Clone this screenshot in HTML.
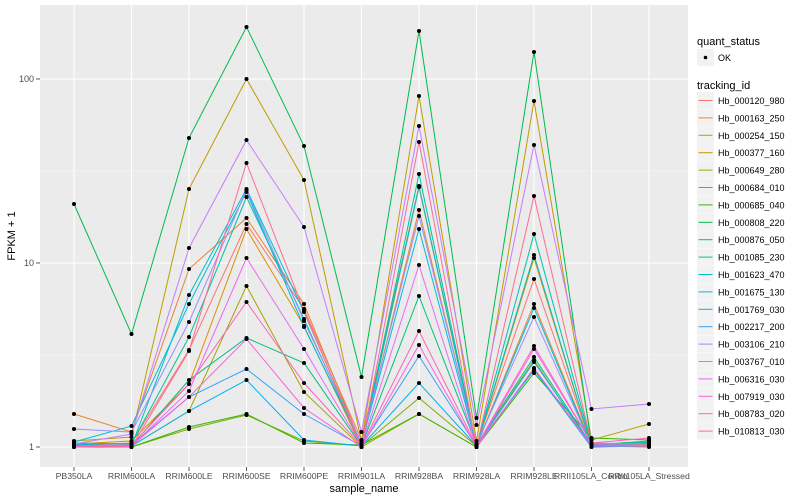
<!DOCTYPE html>
<html><head><meta charset="utf-8"><style>
body{margin:0;background:#fff;}
svg{display:block;font-family:"Liberation Sans",sans-serif;}
</style></head><body>
<svg id="s" width="800" height="500" xmlns="http://www.w3.org/2000/svg">
<rect x="40" y="5" width="648" height="462" fill="#EBEBEB"/>
<g stroke="#F5F5F5" stroke-width="0.6"><line x1="40" x2="688" y1="355" y2="355"/><line x1="40" x2="688" y1="171" y2="171"/></g>
<g stroke="#fff" stroke-width="1.1"><line x1="40" x2="688" y1="447" y2="447"/><line x1="40" x2="688" y1="263" y2="263"/><line x1="40" x2="688" y1="79" y2="79"/></g>
<g id="vg" stroke="#fff" stroke-width="1.1"></g>
<g id="lines" fill="none" stroke-width="1"></g>
<g id="pts" fill="#000"></g>
<g font-size="9" fill="#4D4D4D" text-anchor="end"><text x="34" y="82">100</text><text x="34" y="266">10</text><text x="34" y="450">1</text></g>
<g stroke="#333" stroke-width="0.8"><line x1="36" x2="40" y1="79" y2="79"/><line x1="36" x2="40" y1="263" y2="263"/><line x1="36" x2="40" y1="447" y2="447"/></g>
<g id="xl" font-size="8.7" fill="#4D4D4D" text-anchor="middle"></g>
<text x="364" y="492" font-size="11" text-anchor="middle" fill="#000">sample_name</text>
<text transform="translate(15,236) rotate(-90)" font-size="11" text-anchor="middle" fill="#000">FPKM + 1</text>
<text x="697" y="45" font-size="11" fill="#000">quant_status</text>
<rect x="697" y="49" width="17" height="17" fill="#F2F2F2"/><circle cx="705.5" cy="57.5" r="1.8" fill="#000"/>
<text x="718" y="61" font-size="9" fill="#000">OK</text>
<text x="697" y="89" font-size="11" fill="#000">tracking_id</text>
<g id="lg"></g>
</svg>
<script>
var ns="http://www.w3.org/2000/svg";
function el(p,t,a,txt){var e=document.createElementNS(ns,t);for(var k in a)e.setAttribute(k,a[k]);if(txt)e.textContent=txt;document.getElementById(p).appendChild(e);return e;}
var xs=[],names=["PB350LA","RRIM600LA","RRIM600LE","RRIM600SE","RRIM600PE","RRIM901LA","RRIM928BA","RRIM928LA","RRIM928LE","RRII105LA_Control","RRII105LA_Stressed"];
for(var i=0;i<11;i++){xs.push(74+i*57.5);el("vg","line",{x1:xs[i],x2:xs[i],y1:5,y2:467});
el("xl","text",{x:xs[i],y:479},names[i]);
el("xl","line",{x1:xs[i],x2:xs[i],y1:467,y2:471,stroke:"#333","stroke-width":0.8});}
var cols=["#F8766D","#EA8331","#D89000","#C09B00","#A3A500","#7CAE00","#39B600","#00BB4E","#00BF7D","#00C1A3","#00BFC4","#00BAE0","#00B0F6","#35A2FF","#9590FF","#C77CFF","#E76BF3","#FA62DB","#FF62BC","#FF6C91"];
var ids=["Hb_000120_980","Hb_000163_250","Hb_000254_150","Hb_000377_160","Hb_000649_280","Hb_000684_010","Hb_000685_040","Hb_000808_220","Hb_000876_050","Hb_001085_230","Hb_001623_470","Hb_001675_130","Hb_001769_030","Hb_002217_200","Hb_003106_210","Hb_003767_010","Hb_006316_030","Hb_007919_030","Hb_008783_020","Hb_010813_030"];
var d=[
[445,443,350,224,309,440,186,445,279,445,443],
[414,432,269,218,304,445,210,446,304,445,446],
[444,441,384,229,326,447,187,447,258,446,445],
[441,437,189,79,180,441,96,441,101,440,424],
[445,446,411,286,392,447,414,447,369,446,447],
[446,447,429,415,441,446,398,446,360,447,445],
[447,447,427,414,443,445,414,447,373,438,440],
[204,334,138,27,146,377,31,418,52,445,444],
[446,446,380,338,363,446,296,445,357,445,441],
[443,444,337,197,319,446,174,446,234,444,443],
[444,446,295,189,312,445,187,446,255,446,442],
[442,426,304,192,327,444,229,446,308,446,446],
[446,446,411,380,440,446,383,446,370,447,446],
[445,445,397,369,414,446,356,446,362,445,444],
[429,432,322,190,321,443,216,444,317,446,445],
[444,434,248,140,227,432,126,425,145,409,404],
[447,446,391,258,349,446,265,447,349,443,444],
[447,446,397,339,408,447,345,447,368,446,446],
[446,445,384,302,383,446,331,446,346,443,438],
[446,447,351,163,311,447,142,447,196,444,444]];
for(var s=0;s<20;s++){var p="";for(var i=0;i<11;i++){p+=(i?"L":"M")+xs[i]+","+d[s][i];
el("pts","circle",{cx:xs[i],cy:d[s][i],r:2});}
el("lines","path",{d:p,stroke:cols[s]});
var ly=92+s*17.4;
el("lg","rect",{x:697,y:ly,width:17,height:17,fill:"#F2F2F2"});
el("lg","line",{x1:698.5,x2:712.5,y1:ly+8.5,y2:ly+8.5,stroke:cols[s],"stroke-width":1});
el("lg","text",{x:718,y:ly+12,"font-size":9,fill:"#000"},ids[s]);}
</script>
</body></html>
